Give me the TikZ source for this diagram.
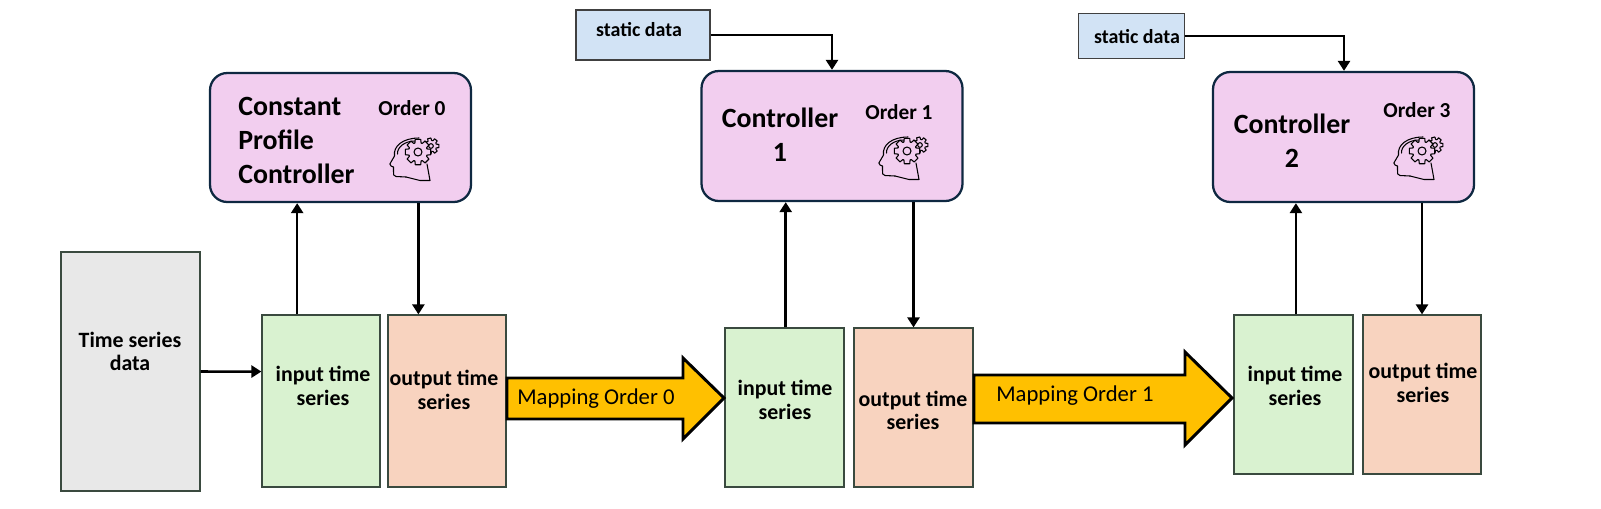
\documentclass[tikz,border=0pt]{standalone}
\usepackage{fontspec}
\setmainfont{Carlito}
\usetikzlibrary{calc,arrows.meta}
\definecolor{tsgrey}{HTML}{E8E8E8}
\definecolor{ingreen}{HTML}{D9F2D0}
\definecolor{outorange}{HTML}{F8D3BF}
\definecolor{ctlpink}{HTML}{F2CEEF}
\definecolor{staticblue}{HTML}{D2E3F5}
\definecolor{ctlborder}{HTML}{0E2841}
\definecolor{boxborder}{HTML}{3A4A3F}
\definecolor{maparrow}{HTML}{FFC000}
\tikzset{
  x=0.75pt,y=-0.75pt,
  databox/.style={draw=boxborder,line width=0.9pt,inner sep=0pt},
  datatext/.style={inner sep=0pt,align=center,font=\bfseries\fontsize{16.4}{17.6}\selectfont},
  ctlbox/.style={draw=ctlborder,fill=ctlpink,line width=1.7pt,rounded corners=13pt,inner sep=0pt},
  staticbox/.style={draw=black!75,fill=staticblue,line width=0.9pt,inner sep=0pt},
  conn/.style={draw=black,line width=1.9pt,-{Triangle[length=7.5pt,width=9pt]}},
  bigarrow/.style={draw=black,fill=maparrow,line width=2.2pt,miter limit=6},
  ctltitle/.style={font=\bfseries\fontsize{20.9}{25.3}\selectfont,align=left,inner sep=0pt},
  ordertext/.style={font=\bfseries\fontsize{16}{17}\selectfont,inner sep=0pt},
  statictext/.style={font=\bfseries\fontsize{15}{16}\selectfont,inner sep=0pt},
  maptext/.style={font=\fontsize{17}{19}\selectfont,inner sep=0pt,anchor=west},
  brainicon/.pic={
    \begin{scope}[line width=0.8pt,draw=black,line cap=round,line join=round]
      \draw (-8,18) -- (-18,17.5)
        .. controls (-20.5,17.5) and (-21,15) .. (-20.5,12)
        -- (-20.5,8) -- (-23,7)
        .. controls (-25,6) and (-24,4) .. (-23,3)
        -- (-19.5,-3)
        .. controls (-21,-13) and (-11,-21) .. (5,-21);
      \draw (-16.5,-5) .. controls (-17,-12) and (-9,-18) .. (1,-18);
      \draw (-8,18) -- (6,21.5) -- (16,21.5) -- (13,5);
      \foreach \cx/\cy/\ro/\ri/\n/\hole in {17/-13/8/5.6/7/2.3,4/-7/13/9.5/8/4}{
        \begin{scope}[shift={(\cx,\cy)}]
          \draw[fill=ctlpink] (-12:\ro)
            \foreach \k in {1,...,\n}{
              -- ({360/\n*(\k-1)+12}:\ro) -- ({360/\n*(\k-1)+19}:\ri) -- ({360/\n*\k-19}:\ri) -- ({360/\n*\k-12}:\ro)
            } -- cycle;
          \draw (0,0) circle (\hole);
        \end{scope}
      }
    \end{scope}
  }
}
\begin{document}
\begin{tikzpicture}
\useasboundingbox (0,0) rectangle (1601,508);
\node[databox,fill=tsgrey,minimum width=104.25pt,minimum height=179.25pt] (ts) at (130.5,371.5) {};
\node[databox,fill=ingreen,minimum width=88.5pt,minimum height=129pt] (in1) at (321,401) {};
\node[databox,fill=outorange,minimum width=88.5pt,minimum height=129pt] (out1) at (447,401) {};
\node[databox,fill=ingreen,minimum width=89.25pt,minimum height=119.25pt] (in2) at (784.5,407.5) {};
\node[databox,fill=outorange,minimum width=89.25pt,minimum height=119.25pt] (out2) at (913.5,407.5) {};
\node[databox,fill=ingreen,minimum width=89.25pt,minimum height=119.25pt] (in3) at (1293.5,394.5) {};
\node[databox,fill=outorange,minimum width=88.5pt,minimum height=119.25pt] (out3) at (1422,394.5) {};
\node[datatext] (lts) at (130,351.5) {Time series\\data};
\node[datatext] (lin1) at (323,386) {input time\\series};
\node[datatext] (lout1) at (444,390) {output time\\series};
\node[datatext] (lin2) at (785,400) {input time\\series};
\node[datatext] (lout2) at (913,410.5) {output time\\series};
\node[datatext] (lin3) at (1295,386) {input time\\series};
\node[datatext] (lout3) at (1423,383) {output time\\series};
\node[ctlbox,minimum width=195.75pt,minimum height=96.75pt] (c0) at (340.5,137.5) {};
\node[ctlbox,minimum width=195.75pt,minimum height=97.5pt] (c1) at (832,136) {};
\node[ctlbox,minimum width=195.75pt,minimum height=97.5pt] (c2) at (1343.5,137) {};
\node[ctltitle,anchor=west] (t0) at (238,140.5) {Constant\\Profile\\Controller};
\node[ctltitle,align=center] (t1) at (780,135) {Controller\\1};
\node[ctltitle,align=center] (t2) at (1292,140.5) {Controller\\2};
\node[ordertext] (o0) at (412,108.5) {Order 0};
\node[ordertext] (o1) at (899,112) {Order 1};
\node[ordertext] (o2) at (1417,110) {Order 3};
\pic at (414,159) {brainicon};
\pic at (903,158) {brainicon};
\pic at (1418,158) {brainicon};
\node[staticbox,minimum width=100.5pt,minimum height=37.5pt] (s1) at (643,35) {};
\node[statictext] (st1) at (639,30) {static data};
\node[staticbox,minimum width=79pt,minimum height=34pt] (s2) at (1131.5,36) {};
\node[statictext] (st2) at (1137,37) {static data};
\coordinate (k1) at (832,0);
\coordinate (k2) at (1344,0);
\draw[conn] (s1.east) -| (k1 |- c1.north);
\draw[conn] (s2.east) -| (k2 |- c2.north);
\draw[conn] ($(in1.north west)!0.30!(in1.north east)$) coordinate (a) -- (a |- c0.south);
\draw[conn] ($(out1.north west)!0.26!(out1.north east)$) coordinate (a) (a |- c0.south) -- (a);
\draw[conn] ($(in2.north west)!0.51!(in2.north east)$) coordinate (a) -- (a |- c1.south);
\draw[conn] ($(out2.north west)!0.50!(out2.north east)$) coordinate (a) (a |- c1.south) -- (a);
\draw[conn] ($(in3.north west)!0.52!(in3.north east)$) coordinate (a) -- (a |- c2.south);
\draw[conn] ($(out3.north west)!0.50!(out3.north east)$) coordinate (a) (a |- c2.south) -- (a);
\draw[conn] ($(ts.north east)!0.5!(ts.south east)$) -- ($(in1.north west)!0.33!(in1.south west)$);
\draw[bigarrow] (507,378) -- (683,378) -- (683,358) -- (724,398) -- (683,439) -- (683,419) -- (507,419) -- cycle;
\node[maptext] (m0) at (517,398.5) {Mapping Order 0};
\draw[bigarrow] (974,375) -- (1185,375) -- (1185,352) -- (1232,398) -- (1185,445) -- (1185,423) -- (974,423) -- cycle;
\node[maptext] (m1) at (996,395.5) {Mapping Order 1};
\end{tikzpicture}
\end{document}
